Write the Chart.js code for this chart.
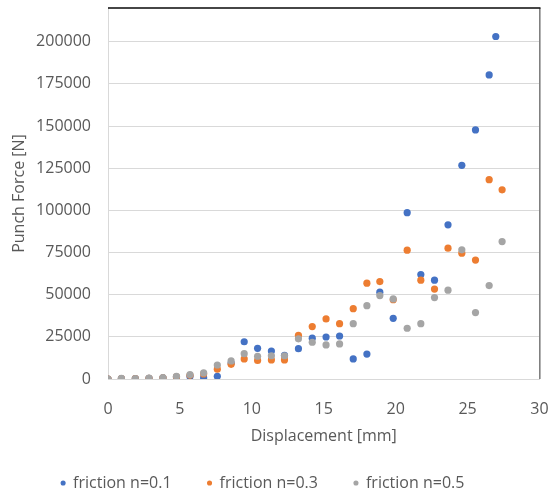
<!DOCTYPE html>
<html>
<head>
<meta charset="utf-8">
<script src="https://cdn.jsdelivr.net/npm/chart.js@4.4.1/dist/chart.umd.min.js"></script>
<style>
  html, body { margin: 0; padding: 0; background: #ffffff; }
  #wrap { width: 554px; height: 493px; }
</style>
</head>
<body>
<div id="wrap"><canvas id="c" width="554" height="493"></canvas></div>
<script>
// Displacement [mm]
const xCommon = [0, 0.93, 1.9, 2.85, 3.82, 4.76, 5.7, 6.65, 7.6, 8.56, 9.47, 10.4, 11.36, 12.27, 13.24, 14.2, 15.16, 16.1, 17.05, 18.0, 18.9, 19.83, 20.8, 21.75, 22.7, 23.64, 24.6, 25.55, 26.5, 27.4];
const xFriction01 = [0, 0.93, 1.9, 2.85, 3.82, 4.76, 5.7, 6.65, 7.6, 8.56, 9.47, 10.4, 11.36, 12.27, 13.24, 14.2, 15.16, 16.1, 17.05, 18.0, 18.9, 19.83, 20.8, 21.75, 22.7, 23.64, 24.6, 25.55, 26.5, 26.96];
// Punch Force [N]
const friction01 = [0, 200, 200, 400, 700, 1200, 1500, 800, 1600, 9500, 22100, 18200, 16600, 14000, 18000, 24200, 24900, 25500, 11900, 14800, 51500, 36000, 98600, 61900, 58600, 91400, 126700, 147700, 180300, 203100];
const friction03 = [0, 200, 200, 400, 700, 1300, 2200, 3000, 5800, 8700, 11900, 11000, 11300, 11300, 25900, 31100, 35600, 32800, 41700, 56800, 57800, 47000, 76400, 58600, 53300, 77600, 74600, 70500, 118200, 112200];
const friction05 = [0, 400, 200, 500, 800, 1600, 2600, 3600, 8300, 10700, 15000, 13500, 13800, 13800, 23800, 21800, 20200, 20800, 32800, 43500, 49500, 47500, 30100, 32800, 48300, 52700, 76600, 39400, 55400, 81500];
const seriesNames = ['friction n=0.1', 'friction n=0.3', 'friction n=0.5'];
const xTicks = [0, 5, 10, 15, 20, 25, 30];
const yTicks = [0, 25000, 50000, 75000, 100000, 125000, 150000, 175000, 200000];

const toPts = (xs, ys) => xs.map((x, i) => ({ x: x, y: ys[i] }));
const TXT = '#595959';
const FONT = 'Open Sans';

const frame = {
  id: 'frame',
  afterDraw(chart) {
    const { ctx, chartArea: a } = chart;
    ctx.save();
    ctx.globalAlpha = 1;
    ctx.fillStyle = '#808080';
    ctx.fillRect(a.right - 0.5, a.top, 1.6, a.bottom - a.top);
    ctx.fillStyle = '#1a1a1a';
    ctx.fillRect(a.left, a.top - 0.8, a.right - a.left + 1, 1.6);
    ctx.restore();
  }
};

new Chart(document.getElementById('c'), {
  type: 'scatter',
  data: {
    datasets: [
      { label: seriesNames[0], data: toPts(xFriction01, friction01), backgroundColor: '#4472C4', borderWidth: 0, pointRadius: 3.6, order: 3 },
      { label: seriesNames[1], data: toPts(xCommon, friction03), backgroundColor: '#ED7D31', borderWidth: 0, pointRadius: 3.6, order: 2 },
      { label: seriesNames[2], data: toPts(xCommon, friction05), backgroundColor: '#A5A5A5', borderWidth: 0, pointRadius: 3.6, order: 1 }
    ]
  },
  options: {
    responsive: false,
    animation: false,
    events: [],
    layout: { autoPadding: false, padding: { left: -14, right: 14.5, top: 8, bottom: 0 } },
    plugins: {
      tooltip: { enabled: false },
      legend: {
        position: 'bottom',
        maxHeight: 54,
        labels: {
          usePointStyle: true,
          pointStyle: 'circle',
          boxWidth: 4,
          boxHeight: 3.6,
          padding: 36,
          color: TXT,
          font: { family: FONT, size: 16 },
          sort: (a, b) => a.datasetIndex - b.datasetIndex
        }
      }
    },
    scales: {
      x: {
        type: 'linear',
        min: 0, max: 30,
        afterFit(s) { s.height = 60; s.paddingLeft = 0; s.paddingRight = 0; },
        afterBuildTicks(s) { s.ticks = xTicks.map(v => ({ value: v })); },
        grid: { display: false, drawTicks: false },
        border: { display: true, color: '#d9d9d9', width: 1 },
        ticks: { padding: 21, color: TXT, font: { family: FONT, size: 16 }, callback: v => String(v) },
        title: { display: true, text: 'Displacement [mm]', color: TXT, font: { family: FONT, size: 16 }, padding: { top: 0, bottom: -7 } }
      },
      y: {
        type: 'linear',
        min: 0, max: 220000,
        afterFit(s) { s.width = 122; s.paddingTop = 0; s.paddingBottom = 0; },
        afterBuildTicks(s) { s.ticks = yTicks.map(v => ({ value: v })); },
        grid: { color: '#d9d9d9', lineWidth: 1, drawTicks: false },
        border: { display: true, color: '#d9d9d9', width: 1 },
        ticks: { padding: 17, color: TXT, font: { family: FONT, size: 16 }, callback: v => String(v) },
        title: { display: true, text: 'Punch Force [N]', color: TXT, font: { family: FONT, size: 16 }, padding: { top: 24, bottom: 0 } }
      }
    }
  },
  plugins: [frame]
});
</script>
</body>
</html>
